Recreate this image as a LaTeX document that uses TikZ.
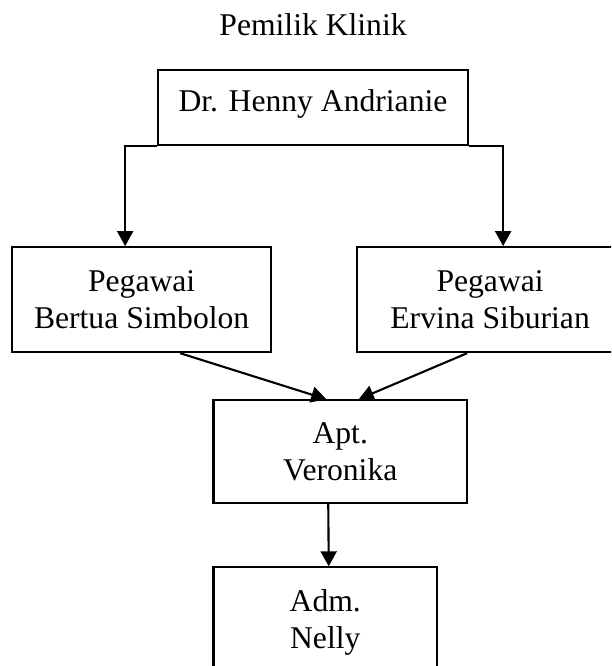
\documentclass[tikz,border=0pt]{standalone}
\usepackage{fontspec}
\setmainfont{Liberation Serif}
\usepackage{tikz}
\usetikzlibrary{arrows, arrows.meta}
\usetikzlibrary{positioning}
\tikzset{
  orgbox/.style={
    draw,
    line width=1.2pt,
    align=center,
    font=\fontsize{18}{21}\selectfont
  },
  orgarrow/.style={
    line width=1.2pt,
    -{Triangle[length=3mm, width=3.2mm]}
  }
}

\begin{document}
\begin{tikzpicture}

\useasboundingbox (0,0) rectangle (12.22,-13.32);
\clip (0,0) rectangle (12.22,-13.32);

% Owner
\node [inner sep=0pt,
    font=\fontsize{18}{21}\selectfont
] (title) at (6.26,-0.5) {Pemilik Klinik};

\node [orgbox,
    minimum width=6.2cm,
    minimum height=1.5cm,
    text depth=0.3cm,
    below=0.65cm of title
]  (dokter) {Dr. Henny Andrianie};

% Staff
\node [orgbox,
    minimum width=5.17cm,
    minimum height=2.1cm,
    below left=2cm and -2.3cm of dokter
]  (bertua) {Pegawai \\ Bertua Simbolon};

\node [orgbox,
    minimum width=5.32cm,
    minimum height=2.1cm,
    below right=2cm and -2.26cm of dokter
]  (ervina) {Pegawai \\ Ervina Siburian};

\node [orgbox,
    minimum width=5.07cm,
    minimum height=2.05cm,
    below right=0.92cm and -1.19cm of bertua
]  (veronika) {Apt. \\ Veronika};

\node [orgbox,
    minimum width=4.47cm,
    minimum height=2.2cm,
    below right=1.25cm and 0cm of veronika.south west
]  (nelly) {Adm. \\ Nelly};

% Arrows
\draw[orgarrow] (dokter.south west) -| ([xshift=-0.33cm]bertua.north);
\draw[orgarrow] (dokter.south east) -| ([xshift=0.26cm]ervina.north);

\draw[orgarrow] ([xshift=0.77cm]bertua.south) -- ([xshift=-0.28cm]veronika.north);
\draw[orgarrow] ([xshift=-0.46cm]ervina.south) -- ([xshift=0.37cm]veronika.north);

\draw[orgarrow] ([xshift=-0.24cm]veronika.south) -- ([xshift=0.07cm]nelly.north);

\end{tikzpicture}
\end{document}
